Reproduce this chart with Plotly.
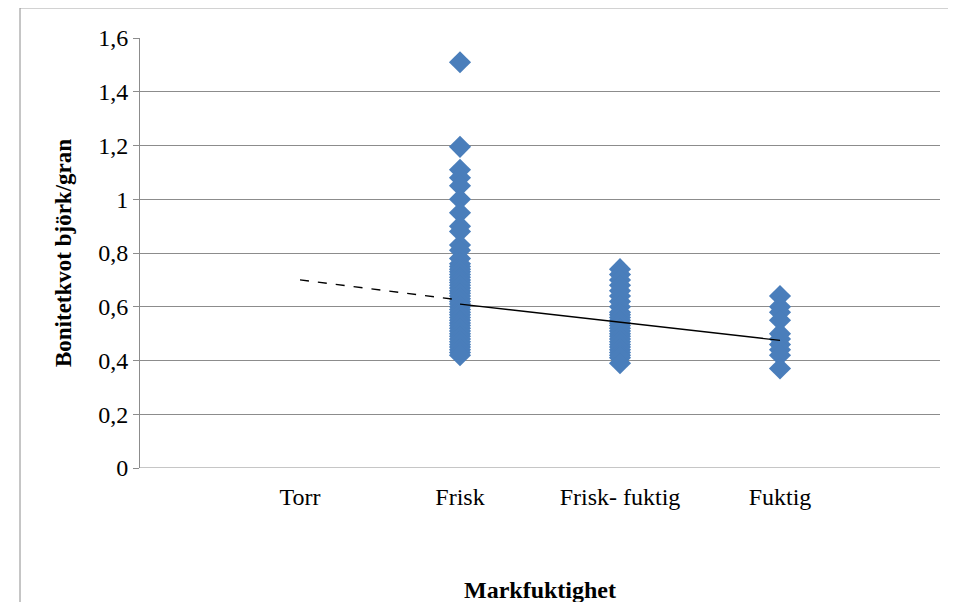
import plotly.graph_objects as go

categories = ["Torr", "Frisk", "Frisk- fuktig", "Fuktig"]
ytick_vals = [0, 0.2, 0.4, 0.6, 0.8, 1.0, 1.2, 1.4, 1.6]
ytick_text = ["0", "0,2", "0,4", "0,6", "0,8", "1", "1,2", "1,4", "1,6"]
frisk = [1.51, 1.195, 1.11, 1.08, 1.05, 1.0, 0.95, 0.9, 0.88, 0.83, 0.81, 0.78, 0.76,
         0.75, 0.74, 0.73, 0.72, 0.71, 0.70, 0.69, 0.68, 0.67, 0.66, 0.65, 0.64, 0.63, 0.62,
         0.61, 0.60, 0.59, 0.58, 0.57, 0.56, 0.55, 0.54, 0.53, 0.52, 0.51, 0.50, 0.49, 0.48,
         0.47, 0.46, 0.45, 0.44, 0.43, 0.42]
frisk_fuktig = [0.74, 0.72, 0.70, 0.68, 0.66, 0.64, 0.62, 0.60, 0.58, 0.57, 0.56, 0.55, 0.54,
                0.53, 0.52, 0.51, 0.50, 0.49, 0.48, 0.47, 0.46, 0.45, 0.44, 0.43, 0.42, 0.41, 0.39]
fuktig = [0.64, 0.60, 0.58, 0.55, 0.50, 0.48, 0.46, 0.44, 0.42, 0.37]
trend_x = [2, 4]
trend_y = [0.61, 0.475]
back_x = [1, 2]
back_y = [0.70, 0.625]

fig = go.Figure()
for pos, vals in [(2, frisk), (3, frisk_fuktig), (4, fuktig)]:
    fig.add_trace(go.Scatter(x=[pos]*len(vals), y=vals, mode="markers",
                             marker=dict(symbol="diamond", size=17, color="#4a7ebb"),
                             showlegend=False))
fig.add_trace(go.Scatter(x=back_x, y=back_y, mode="lines",
                         line=dict(color="black", width=1.3, dash="dash"), showlegend=False))
fig.add_trace(go.Scatter(x=trend_x, y=trend_y, mode="lines",
                         line=dict(color="black", width=1.3), showlegend=False))

font = "Liberation Serif, Times New Roman, serif"
fig.update_layout(
    width=956, height=602, margin=dict(l=132, r=24, t=30, b=142),
    paper_bgcolor="white", plot_bgcolor="white",
    font=dict(family=font, size=24, color="black"),
    xaxis=dict(range=[0, 5], tickvals=[1, 2, 3, 4], ticktext=categories,
               showgrid=False, zeroline=False, showline=False, ticks="",
               ticklabelstandoff=12,
               title=dict(text="<b>Markfuktighet</b>", standoff=72, font=dict(size=24))),
    yaxis=dict(range=[0, 1.6], tickvals=ytick_vals, ticktext=ytick_text,
               showgrid=True, gridcolor="#8c8c8c", gridwidth=1, zeroline=False,
               showline=True, linecolor="#8c8c8c", ticks="outside", ticklen=6, tickcolor="#8c8c8c",
               title=dict(text="<b>Bonitetkvot björk/gran</b>", standoff=20, font=dict(size=23))),
    shapes=[dict(type="rect", xref="paper", yref="paper", x0=-0.15, x1=1.028, y0=-0.5, y1=1.07,
                 line=dict(color="#8c8c8c", width=1), layer="below"),
            dict(type="line", xref="paper", yref="y", x0=0, x1=1, y0=0, y1=0,
                 line=dict(color="#8c8c8c", width=1))],
)
fig.write_html("out.html")
